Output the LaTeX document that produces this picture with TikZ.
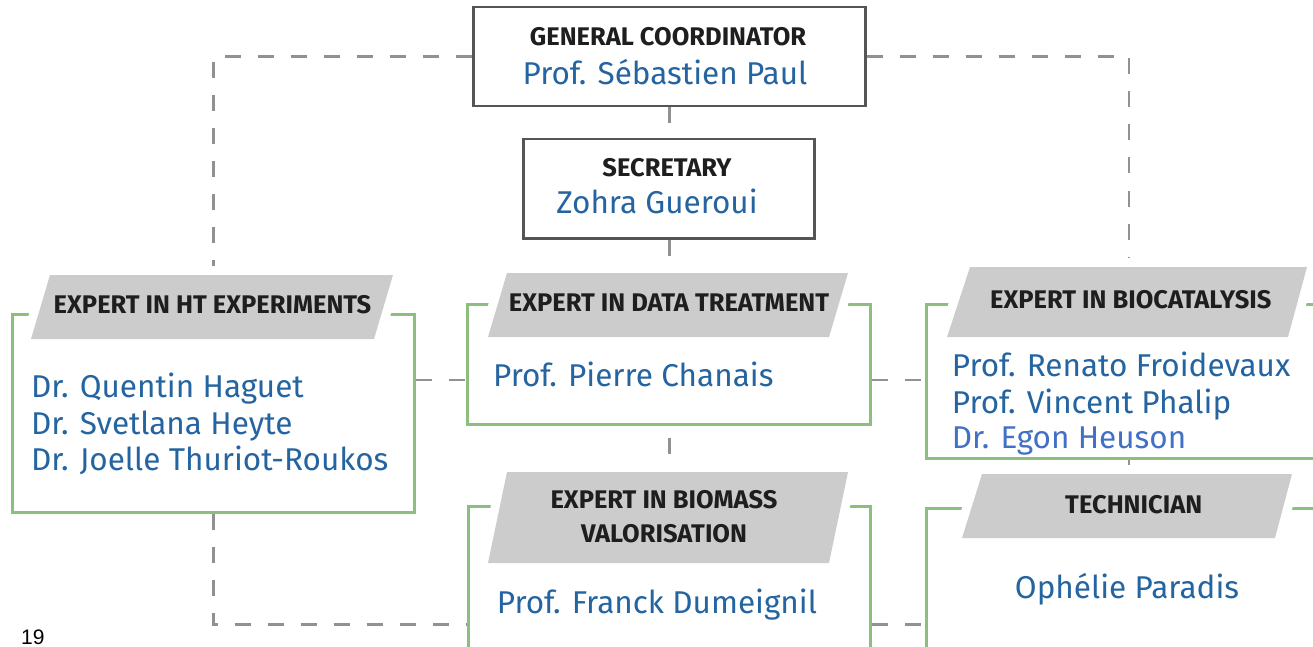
\documentclass[tikz,border=0pt]{standalone}
\usepackage{fontspec}
\setmainfont{Fira Sans}
\newfontfamily\pnfont{Liberation Sans}
\pgfdeclarelayer{bg}
\pgfsetlayers{bg,main}
\definecolor{gboxc}{RGB}{140,190,125}
\definecolor{dboxc}{RGB}{85,85,85}
\definecolor{dashc}{RGB}{145,145,145}
\definecolor{bannerc}{RGB}{204,204,204}
\definecolor{namec}{RGB}{36,100,160}
\definecolor{namec2}{RGB}{66,112,196}
\definecolor{headc}{RGB}{30,30,30}
\begin{document}
\begin{tikzpicture}[x=1pt,y=-1pt,
  gbox/.style={draw=gboxc, line width=2.5pt, fill=white, anchor=north west, inner sep=0pt},
  dbox/.style={draw=dboxc, line width=2.5pt, fill=white, anchor=north west, inner sep=0pt},
  dline/.style={draw=dashc, line width=2.5pt, dash pattern=on 16pt off 17pt},
  banner/.style={fill=bannerc, preaction={draw=white, line width=18pt, line join=round}},
  head/.style={font=\bfseries\fontsize{25.5}{30}\selectfont, text=headc, inner sep=0pt, anchor=base},
  pname/.style={font=\fontsize{31.5}{36}\selectfont, text=namec, inner sep=0pt, anchor=base west}]
\useasboundingbox (0,0) rectangle (1313,647);

% boxes
\node[dbox, minimum width=392pt, minimum height=99pt] (coord) at (472,6) {};
\node[dbox, minimum width=291pt, minimum height=99pt] (sec) at (522,138) {};
\node[gbox, minimum width=402pt, minimum height=198pt] (ht) at (11,313) {};
\node[gbox, minimum width=403pt, minimum height=120pt] (data) at (466,303) {};
\node[gbox, minimum width=405pt, minimum height=154pt] (bio) at (925,303) {};
\node[gbox, minimum width=402pt, minimum height=236pt] (biom) at (467,505) {};
\node[gbox, minimum width=405pt, minimum height=232pt] (tech) at (925,507) {};
\coordinate (rowA) at (0,380);

% connectors
\begin{pgfonlayer}{bg}
\fill[white] (0,0) rectangle (1313,647);
\draw[dline] (coord.west) -| (ht.north);
\draw[dline] (coord.east) -| (bio.north);
\draw[dline] (coord.south) -- (biom.north);
\draw[dline] (ht.south) |- (biom.west);
\draw[dline] (bio.south) -- (tech.north);
\draw[dline] (ht.east |- rowA) -- (data.west |- rowA);
\draw[dline] (data.east |- rowA) -- (bio.west |- rowA);
\draw[dline] (biom.east) -- (tech.west);
\end{pgfonlayer}

% banners
\path[banner] (31,339) -- (50,275) -- (393,275) -- (374,339) -- cycle;
\path[banner] (488,337) -- (507,273) -- (848,273) -- (829,337) -- cycle;
\path[banner] (947,337) -- (970,267) -- (1307,267) -- (1288,337) -- cycle;
\path[banner] (488,563) -- (507,472) -- (848,472) -- (829,563) -- cycle;
\path[banner] (962,538) -- (982,474) -- (1292,474) -- (1275,538) -- cycle;

% texts
\node[head] (coordT) at (668,45.7) {GENERAL COORDINATOR};
\node[pname, anchor=base] (coordN) at (665,85) {Prof. Sébastien Paul};
\node[head] (secT) at (667,176.7) {SECRETARY};
\node[pname, anchor=base] (secN) at (657,213.3) {Zohra Gueroui};

\node[head] (htT) at (212.5,313.3) {EXPERT IN HT EXPERIMENTS};
\node[pname] (htN1) at (31,397) {Dr. Quentin Haguet};
\node[pname] (htN2) at (31,434) {Dr. Svetlana Heyte};
\node[pname] (htN3) at (31,470.7) {Dr. Joelle Thuriot-Roukos};

\node[head] (dataT) at (669,311.7) {EXPERT IN DATA TREATMENT};
\node[pname] (dataN) at (493,386.7) {Prof. Pierre Chanais};

\node[head] (bioT) at (1130.8,308) {EXPERT IN BIOCATALYSIS};
\node[pname] (bioN1) at (951.7,376.7) {Prof. Renato Froidevaux};
\node[pname] (bioN2) at (951.7,413.3) {Prof. Vincent Phalip};
\node[pname, text=namec2] (bioN3) at (951.7,448.3) {Dr. Egon Heuson};

\node[head] (biomT1) at (664,508.3) {EXPERT IN BIOMASS};
\node[head] (biomT2) at (664,542.7) {VALORISATION};
\node[pname] (biomN) at (496.7,613.3) {Prof. Franck Dumeignil};

\node[head] (techT) at (1133.7,513.3) {TECHNICIAN};
\node[pname, anchor=base] (techN) at (1127,598.3) {Ophélie Paradis};

\node[font=\pnfont\fontsize{21}{24}\selectfont, inner sep=0pt, anchor=base west] (pnum) at (21,644) {19};
\end{tikzpicture}
\end{document}
